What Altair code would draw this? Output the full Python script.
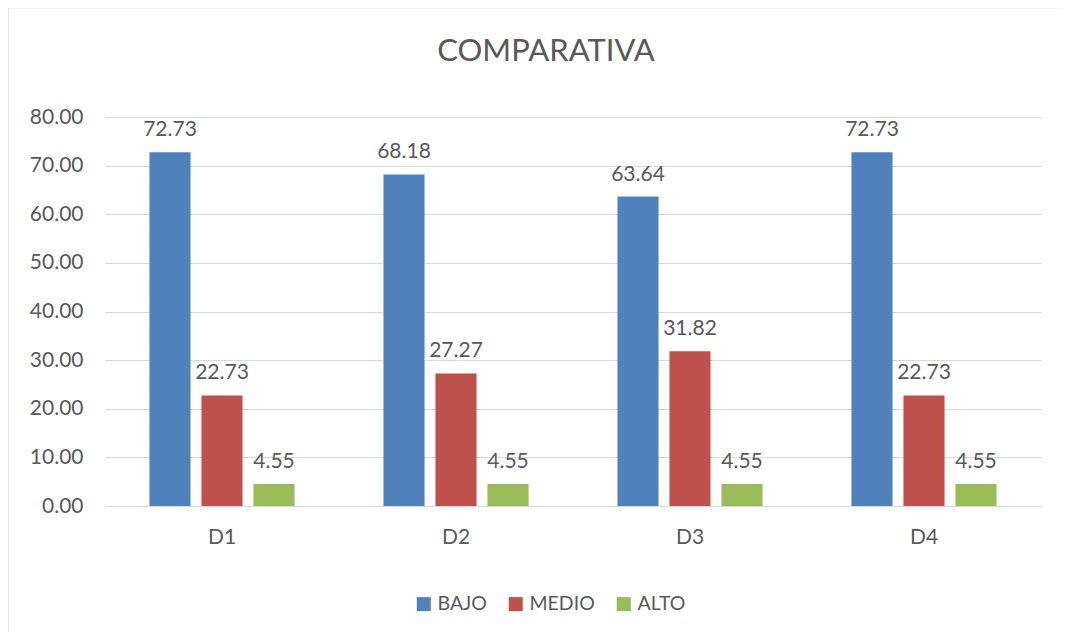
import altair as alt
import pandas as pd

categories = ["D1", "D2", "D3", "D4"]
series = ["BAJO", "MEDIO", "ALTO"]
bajo = [72.73, 68.18, 63.64, 72.73]
medio = [22.73, 27.27, 31.82, 22.73]
alto = [4.55, 4.55, 4.55, 4.55]
colors = ["#4F81BD", "#C0504D", "#9BBB59"]
y_ticks = [0, 10, 20, 30, 40, 50, 60, 70, 80]

rows = []
for s, vals in zip(series, [bajo, medio, alto]):
    for c, v in zip(categories, vals):
        rows.append({"cat": c, "serie": s, "valor": v})
df = pd.DataFrame(rows)

FONT = "Lato"
GRAY = "#595959"

x = alt.X("cat:N", sort=categories, title=None,
          scale=alt.Scale(paddingInner=0, paddingOuter=0),
          axis=alt.Axis(labelAngle=0, labelFontSize=21, labelColor=GRAY, labelFont=FONT,
                        ticks=False, domainColor="#D9D9D9", labelPadding=20))
xo = alt.XOffset("serie:N", sort=series,
                 scale=alt.Scale(paddingInner=0.21, paddingOuter=0.855))
y = alt.Y("valor:Q", title=None,
          scale=alt.Scale(domain=[0, 80]),
          axis=alt.Axis(values=y_ticks, format=".2f", labelFontSize=21, labelColor=GRAY,
                        labelFont=FONT, ticks=False, domain=False, gridColor="#D9D9D9",
                        labelPadding=22))

bars = alt.Chart(df).mark_bar().encode(
    x=x, xOffset=xo, y=y,
    color=alt.Color("serie:N", sort=series,
                    scale=alt.Scale(domain=series, range=colors),
                    legend=alt.Legend(title=None, orient="none", direction="horizontal",
                                      legendX=309, legendY=477, symbolType="square",
                                      symbolSize=196, symbolStrokeWidth=0,
                                      labelFontSize=19.5, labelColor=GRAY, labelFont=FONT,
                                      columnPadding=19, labelOffset=4)),
)

labels = alt.Chart(df).mark_text(baseline="alphabetic", dy=-16, fontSize=21,
                                 font=FONT, color=GRAY).encode(
    x=x, xOffset=xo, y=y,
    text=alt.Text("valor:Q", format=".2f"),
)

border_v = alt.Chart(pd.DataFrame({"a": [0]})).mark_rule(color="#D9D9D9", strokeWidth=1.5).encode(
    x=alt.value(-97), y=alt.value(-110), y2=alt.value(540))
border_h = alt.Chart(pd.DataFrame({"a": [0]})).mark_rule(color="#D9D9D9", strokeWidth=1.5).encode(
    x=alt.value(-97), x2=alt.value(960), y=alt.value(-109.5))

chart = alt.layer(bars, labels, border_v, border_h).properties(
    width=936, height=389,
    title=alt.TitleParams("COMPARATIVA", fontSize=31, font=FONT, color=GRAY,
                          fontWeight="normal", anchor="middle", frame="group",
                          dx=-27, offset=-62),
    autosize=alt.AutoSizeParams(type="none"),
    padding={"left": 97, "top": 109, "right": 20, "bottom": 126},
).configure_view(stroke=None)

chart.save("out.html", embed_options={"renderer": "svg", "actions": False})
